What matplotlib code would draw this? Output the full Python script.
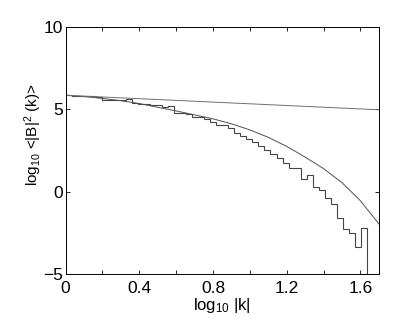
import numpy as np
import matplotlib
matplotlib.use('Agg')
import matplotlib.pyplot as plt

# Data
bin_width = 0.0327
hist_levels = [5.85, 5.83, 5.81, 5.81, 5.80, 5.72, 5.56, 5.55, 5.55, 5.54,
               5.64, 5.36, 5.35, 5.33, 5.26, 5.24, 5.12, 5.20, 4.79, 4.79,
               4.71, 4.55, 4.55, 4.39, 4.25, 4.05, 4.05, 3.85, 3.55, 3.38,
               3.18, 3.00, 2.75, 2.53, 2.29, 2.03, 1.76, 1.42, 1.42, 0.76,
               1.02, 0.31, 0.11, -0.35, -0.74, -1.61, -2.27, -2.48, -3.33, -2.21]
hist_floor = -10.0  # empty bins (log of zero), clipped by the axes

curve_x = [0, 0.1, 0.2, 0.3, 0.4, 0.5, 0.6, 0.7, 0.8, 0.9, 1.0, 1.1, 1.2,
           1.3, 1.4, 1.5, 1.6, 1.7]
curve_y = [5.85, 5.77, 5.66, 5.52, 5.35, 5.12, 4.90, 4.66, 4.42, 4.12, 3.75,
           3.30, 2.75, 2.10, 1.40, 0.55, -0.55, -1.95]

line_x = [0, 1.7]
line_y = [5.85, 4.97]

xticks = [0, 0.2, 0.4, 0.6, 0.8, 1.0, 1.2, 1.4, 1.6]
xticklabels = ['0', '', '0.4', '', '0.8', '', '1.2', '', '1.6']
yticks = [-5, 0, 5, 10]

# Styling
plt.rcParams['font.family'] = ['Liberation Sans', 'DejaVu Sans']
plt.rcParams['mathtext.default'] = 'regular'

fig = plt.figure(figsize=(4.07, 3.23), dpi=100)
ax = fig.add_axes([0.161, 0.151, 0.770, 0.766])

# stairs: edges from bin index
n = len(hist_levels)
edges = np.arange(n + 2) * bin_width
levels = np.array(hist_levels + [hist_floor])
ax.stairs(levels, edges, baseline=None, color='#454545', linewidth=0.8)

ax.plot(curve_x, curve_y, color='#505050', linewidth=0.7)
ax.plot(line_x, line_y, color='#707070', linewidth=0.7)

ax.set_xlim(0, 1.7)
ax.set_ylim(-5, 10)
ax.set_xticks(xticks)
ax.set_xticklabels(xticklabels)
ax.set_yticks(yticks)
ax.tick_params(direction='in', top=True, right=True, labelsize=12.5,
               length=3, width=0.6)
ax.tick_params(axis='x', pad=5)
ax.tick_params(axis='y', pad=2)
for s in ax.spines.values():
    s.set_linewidth(0.7)

ax.set_xlabel(r'log$_{10}$ |k|', fontsize=12, labelpad=0)
fig.text(33 / 407, 1 - 135 / 323, r'log$_{10}$ <|B|$^{2}$ (k)>',
         rotation=90, ha='center', va='center', fontsize=11)

plt.savefig('out.png', dpi=100)
